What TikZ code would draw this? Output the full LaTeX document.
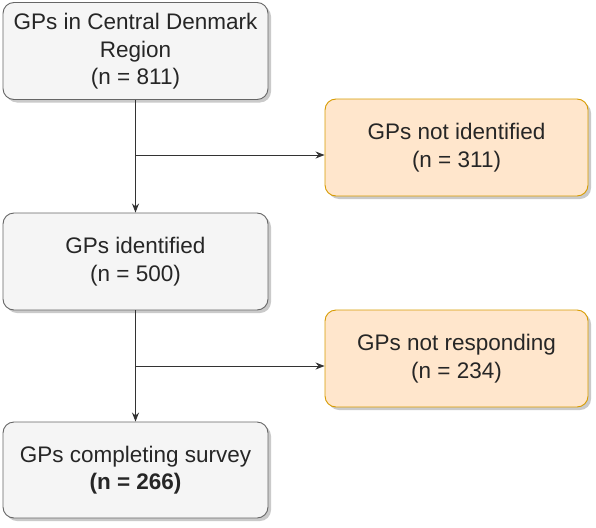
\documentclass[tikz,border=0pt]{standalone}
\usepackage{fontspec}
\setmainfont{Liberation Sans}
\usetikzlibrary{shadows,arrows.meta}
\definecolor{grayfill}{HTML}{F5F5F5}
\definecolor{graydraw}{HTML}{666666}
\definecolor{orfill}{HTML}{FFE6CC}
\definecolor{ordraw}{HTML}{D79B00}
\begin{document}
\begin{tikzpicture}[x=1pt,y=-1pt,
  box/.style={rounded corners=11pt, line width=0.9pt, align=center,
    minimum width=265pt, minimum height=97pt, inner sep=0pt,
    font=\fontsize{22.5}{27.5}\selectfont, text=black!85,
    execute at begin node={\rule{0pt}{22pt}},
    drop shadow={shadow xshift=3pt, shadow yshift=-3pt, fill=black!35, opacity=0.6}},
  graybox/.style={box, fill=grayfill, draw=graydraw},
  orbox/.style={box, fill=orfill, draw=ordraw, minimum width=263pt},
  conn/.style={line width=1pt, draw=black!80, -{Stealth[length=9pt,width=7pt]}}]
\useasboundingbox (0,0) rectangle (596,527);
\node[graybox] (a) at (135.5,51) {GPs in Central Denmark\\Region\\[-0.5pt](n = 811)};
\node[orbox] (b) at (456.5,147.5) {GPs not identified\\(n = 311)};
\node[graybox] (c) at (135.5,261.5) {GPs identified\\(n = 500)};
\node[orbox] (d) at (456.5,358.5) {GPs not responding\\(n = 234)};
\node[graybox, minimum height=96pt] (e) at (135.5,470) {GPs completing survey\\\textbf{(n = 266)}};
\coordinate (j1) at (135.5,155);
\coordinate (j2) at (135.5,366);
\coordinate (bl) at (b.west |- j1);
\coordinate (dl) at (d.west |- j2);
\draw[conn] (a.south) -- (c.north);
\draw[conn] (j1) -- (bl);
\draw[conn] (c.south) -- (e.north);
\draw[conn] (j2) -- (dl);
\end{tikzpicture}
\end{document}
